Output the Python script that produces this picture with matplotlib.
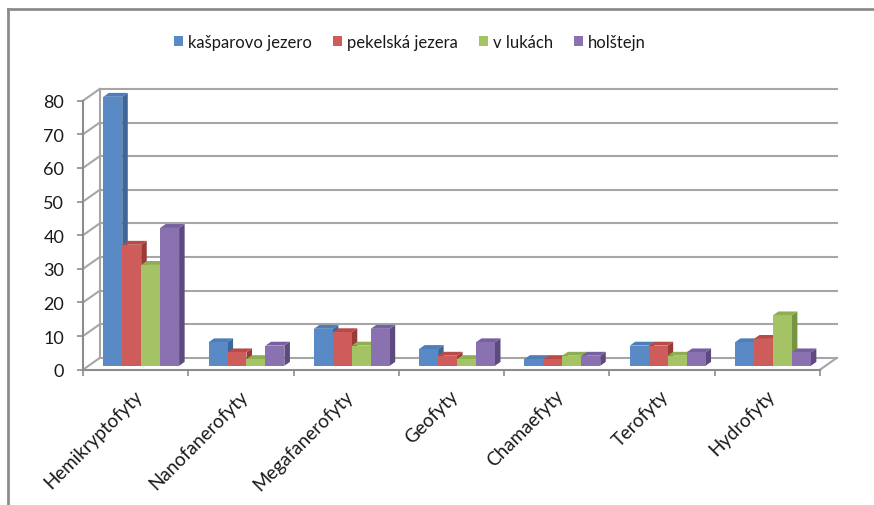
import matplotlib
matplotlib.use("Agg")
import matplotlib.pyplot as plt
from matplotlib.patches import Polygon, Patch
from matplotlib.lines import Line2D

plt.rcParams['font.family'] = ['Lato', 'DejaVu Sans']

categories = ['Hemikryptofyty', 'Nanofanerofyty', 'Megafanerofyty', 'Geofyty',
              'Chamaefyty', 'Terofyty', 'Hydrofyty']
series_names = ['kašparovo jezero', 'pekelská jezera', 'v lukách', 'holštejn']
kasparovo = [80, 7, 11, 5, 2, 6, 7]
pekelska = [36, 4, 10, 3, 2, 6, 8]
v_lukach = [30, 2, 6, 2, 3, 3, 15]
holstejn = [41, 6, 11, 7, 3, 4, 4]
series = [kasparovo, pekelska, v_lukach, holstejn]
y_ticks = list(range(0, 81, 10))

front_cols = ['#5A8AC6', '#CD5C5A', '#A3C364', '#8A72B0']
side_cols = ['#3D6798', '#9B3B39', '#769540', '#5E4A7F']
top_cols = ['#4F7DB8', '#B84A48', '#8FAE52', '#7660A0']
grid_col = '#A6A6A6'
axis_col = '#8C8C8C'
txt_col = '#1a1a1a'

fig = plt.figure(figsize=(8.74, 5.06), dpi=100)
ax = fig.add_axes([83 / 874, (506 - 370.7) / 506, 737 / 874, 269 / 506])
ax.set_xlim(0, len(categories))
ax.set_ylim(0, 80)

# 3D depth of the walls (data units) and of the bars
dxw, dyw = 0.158, 3.48
dxb, dyb = dxw / 3, dyw / 3
bw = 0.18

# walls: back gridlines and left wall diagonals
for v in y_ticks:
    ax.plot([dxw, len(categories) + dxw], [v + dyw, v + dyw], color=grid_col, lw=1.5,
            clip_on=False, zorder=1)
    ax.plot([0, dxw], [v, v + dyw], color=grid_col, lw=1.5, clip_on=False, zorder=1)
ax.plot([dxw, dxw], [dyw, 80 + dyw], color=grid_col, lw=1.5, clip_on=False, zorder=1)
ax.plot([len(categories), len(categories) + dxw], [0, dyw], color=grid_col, lw=1.5,
        clip_on=False, zorder=1)

# bars
for i in range(len(categories)):
    x0 = i + 0.5 - 2 * bw + dxb
    for s, vals in enumerate(series):
        xl = x0 + s * bw
        xr = xl + bw
        b = dyb
        t = dyb + vals[i]
        z = 3 + i * 10 + s * 2
        ax.add_patch(Polygon([(xr, b), (xr + dxb, b + dyb), (xr + dxb, t + dyb), (xr, t)],
                             closed=True, facecolor=side_cols[s], edgecolor='none',
                             clip_on=False, zorder=z))
        ax.add_patch(Polygon([(xl, t), (xr, t), (xr + dxb, t + dyb), (xl + dxb, t + dyb)],
                             closed=True, facecolor=top_cols[s], edgecolor='none',
                             clip_on=False, zorder=z))
        ax.bar(xl, vals[i], width=bw, bottom=b, align='edge', color=front_cols[s],
               edgecolor='none', zorder=z + 1, clip_on=False)

for sp in ['top', 'right']:
    ax.spines[sp].set_visible(False)
for sp in ['left', 'bottom']:
    ax.spines[sp].set_color(axis_col)
    ax.spines[sp].set_linewidth(1.5)

ax.set_yticks(y_ticks)
ax.set_xticks(range(len(categories) + 1))
ax.set_xticklabels([])
ax.tick_params(axis='both', length=4.5, width=1.2, color=axis_col)
ax.tick_params(axis='y', pad=9, labelsize=13, labelcolor=txt_col)

for i, c in enumerate(categories):
    ax.text(i + 0.54, -6.8, c, rotation=45, rotation_mode='anchor', ha='right',
            va='center', fontsize=13.5, color=txt_col, clip_on=False)

handles = [Patch(facecolor=front_cols[s], edgecolor='none') for s in range(4)]
fig.legend(handles, series_names, loc='center', bbox_to_anchor=(410 / 874, 1 - 43 / 506),
           ncol=4, frameon=False, fontsize=12, handlelength=0.55, handleheight=0.55,
           handletextpad=0.3, columnspacing=1.25, labelcolor=txt_col)

# chart frame (top and left edges visible)
fig.add_artist(Line2D([8 / 874, 1], [1 - 10 / 506, 1 - 10 / 506], color=axis_col, lw=2,
                      transform=fig.transFigure))
fig.add_artist(Line2D([8 / 874, 8 / 874], [0, 1 - 10 / 506], color=axis_col, lw=2,
                      transform=fig.transFigure))

fig.savefig('out.png', dpi=100)
